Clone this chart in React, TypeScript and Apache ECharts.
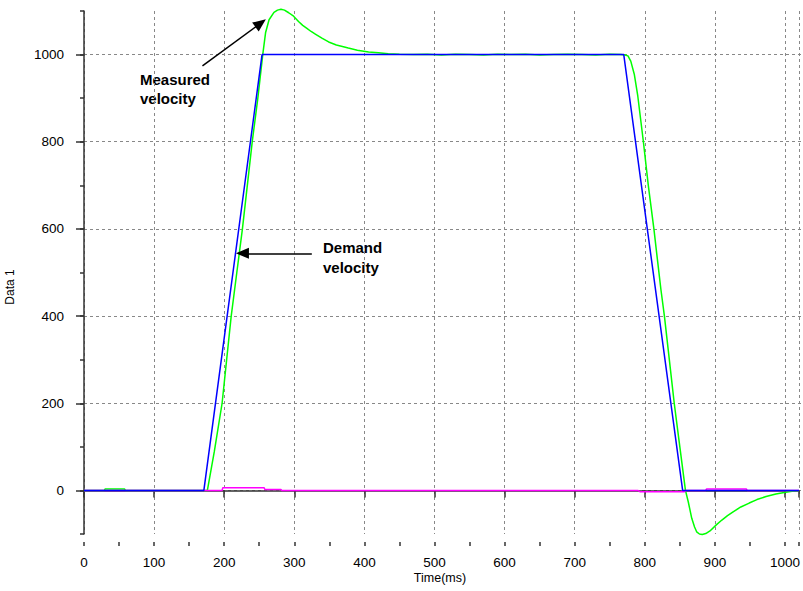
import React, { useEffect, useRef } from 'react';
import * as echarts from 'echarts';

// Demand velocity (blue)
const demandT = [0, 171, 254, 770, 854, 1020];
const demandV = [0, 0, 1000, 1000, 0, 0];

// Measured velocity (green)
const measuredT = [0, 29, 30, 58, 59, 176, 186, 197, 210, 218, 226, 233, 240, 248, 255, 259, 264, 271, 276, 281, 286, 292, 299, 306, 312, 318, 324, 330, 340, 349, 360, 370, 377, 390, 406, 420, 434, 450, 470, 490, 510, 530, 550, 570, 590, 610, 630, 650, 670, 690, 710, 730, 750, 765, 772, 776, 780, 785, 790, 798, 805, 813, 818, 823, 828, 835, 842, 850, 858, 862, 867, 871, 874, 878, 882, 887, 893, 902, 910, 918, 926, 937, 949, 960, 973, 987, 1001, 1010, 1020];
const measuredV = [0, 0, 3, 3, 0, 0, 90, 200, 400, 500, 600, 700, 800, 900, 1000, 1050, 1080, 1097, 1102, 1104, 1102, 1096, 1088, 1076, 1067, 1060, 1053, 1047, 1037, 1029, 1022, 1018, 1015, 1010, 1006, 1004, 1002, 1001, 1000, 1001, 999, 1001, 1000, 999, 1001, 1000, 1001, 999, 1000, 1001, 1000, 999, 1001, 1000, 999, 997, 985, 955, 905, 800, 700, 600, 530, 461, 400, 300, 200, 100, 0, -26, -64, -84, -95, -100, -101, -99, -93, -79, -68, -58, -49, -38, -29, -21, -14, -8, -4, -2, -1];

// Third trace (magenta)
const errorT = [0, 197, 198, 257, 258, 281, 282, 790, 793, 857, 858, 887, 888, 945, 946, 1020];
const errorV = [0, 0, 6, 6, 2, 2, 0, 0, -3, -3, 0, 0, 3, 3, 0, 0];

// Axes
const xMin = 0;
const xMax = 1020;
const xStep = 100;
const yMin = -100;
const yMax = 1100;
const yLabelMin = 0;
const yLabelMax = 1000;
const yLabelStep = 200;

// Annotation arrows [fromT, fromV, toT, toV]
const measuredArrow = [169, 974, 252, 1072];
const demandArrow = [325, 544, 226, 544];

const FONT = '"Liberation Sans", Arial, Helvetica, sans-serif';

export default function App() {
  const ref = useRef<HTMLDivElement>(null);
  useEffect(() => {
    if (!ref.current) return;
    const chart = echarts.init(ref.current, null, { renderer: 'svg' });
    const zip = (t: number[], v: number[]) => t.map((x, i) => [x, v[i]]);
    const axisColor = '#333';
    const plotTop = 11;
    const plotBottom = 57;
    const H = 591;
    const plotH = H - plotTop - plotBottom;
    const pxPer = plotH / (yMax - yMin);
    const zeroY = plotTop + (yMax - 0) * pxPer;
    const topB = plotTop + (yMax - yLabelMax) * pxPer;
    const bottomB = H - zeroY;

    chart.setOption({
      animation: false,
      backgroundColor: '#ffffff',
      textStyle: { fontFamily: FONT },
      grid: [
        { left: 84, right: 0, top: plotTop, bottom: plotBottom, containLabel: false },
        { left: 84, right: 0, top: topB, bottom: bottomB, containLabel: false },
      ],
      xAxis: [
        {
          type: 'value', gridIndex: 0, min: xMin, max: xMax, interval: xStep, offset: 8, position: 'bottom',
          axisLine: { show: true, lineStyle: { color: axisColor, width: 1.5 } },
          axisTick: { show: true, length: 7, lineStyle: { color: axisColor, width: 1.5 } },
          axisLabel: {
            margin: 13, fontSize: 13.5, color: '#000', fontFamily: FONT,
            formatter: (v: number) => (Math.round(v) % 100 === 0 ? String(Math.round(v)) : ''),
          },
          splitLine: { show: true, lineStyle: { color: '#888', type: [3, 3], width: 1 } },
        },
        {
          type: 'value', gridIndex: 0, min: xMin, max: xMax, interval: 50, offset: 8, position: 'bottom',
          axisLine: { show: false },
          axisTick: { show: true, length: 4, lineStyle: { color: axisColor, width: 1.5 } },
          axisLabel: { show: false },
          splitLine: { show: false },
        },
        {
          type: 'value', gridIndex: 1, min: xMin, max: xMax, show: false,
        },
      ],
      yAxis: [
        {
          type: 'value', gridIndex: 0, min: yMin, max: yMax, interval: 100, offset: 7, position: 'left',
          axisLine: { show: true, lineStyle: { color: axisColor, width: 1.5 } },
          axisTick: { show: true, length: 4, lineStyle: { color: axisColor, width: 1.5 } },
          axisLabel: { show: false },
          splitLine: { show: false },
        },
        {
          type: 'value', gridIndex: 1, min: yLabelMin, max: yLabelMax, interval: yLabelStep, offset: 7, position: 'left',
          axisLine: { show: false },
          axisTick: { show: true, length: 8, lineStyle: { color: axisColor, width: 1.5 } },
          axisLabel: {
            margin: 13, fontSize: 13.5, color: '#000', fontFamily: FONT,
            formatter: (v: number) => String(Math.round(v)),
          },
          splitLine: { show: true, lineStyle: { color: '#888', type: [3, 3], width: 1 } },
        },
      ],
      series: [
        {
          name: 'Measured velocity', type: 'line', xAxisIndex: 0, yAxisIndex: 0,
          data: zip(measuredT, measuredV), showSymbol: false, symbol: 'none', clip: false,
          lineStyle: { color: '#00ff00', width: 1.5 },
        },
        {
          name: 'Error', type: 'line', xAxisIndex: 0, yAxisIndex: 0,
          data: zip(errorT, errorV), showSymbol: false, symbol: 'none',
          lineStyle: { color: '#ff00ff', width: 1.5 },
        },
        {
          name: 'Demand velocity', type: 'line', xAxisIndex: 0, yAxisIndex: 0,
          data: zip(demandT, demandV), showSymbol: false, symbol: 'none',
          lineStyle: { color: '#0000ff', width: 1.5 },
          markLine: {
            silent: true,
            symbol: ['none', 'triangle'],
            symbolSize: [11, 13],
            label: { show: false },
            lineStyle: { color: '#000', width: 1.5, type: 'solid' },
            data: [
              [{ coord: [measuredArrow[0], measuredArrow[1]] }, { coord: [measuredArrow[2], measuredArrow[3]] }],
              [{ coord: [demandArrow[0], demandArrow[1]] }, { coord: [demandArrow[2], demandArrow[3]] }],
            ],
          },
        },
      ],
      graphic: [
        {
          type: 'text', x: 140, y: 70,
          style: { text: 'Measured\nvelocity', fontFamily: FONT, fontSize: 15, fontWeight: 'bold', fill: '#000', lineHeight: 19, align: 'left', verticalAlign: 'top' },
        },
        {
          type: 'text', x: 323, y: 237,
          style: { text: 'Demand\nvelocity', fontFamily: FONT, fontSize: 15, fontWeight: 'bold', fill: '#000', lineHeight: 20, align: 'left', verticalAlign: 'top' },
        },
        {
          type: 'text', x: 440, y: 578,
          style: { text: 'Time(ms)', fontFamily: FONT, fontSize: 12.5, fill: '#000', align: 'center', verticalAlign: 'middle' },
        },
        {
          type: 'text', x: 10, y: 287, rotation: Math.PI / 2,
          style: { text: 'Data 1', fontFamily: FONT, fontSize: 12, fill: '#000', align: 'center', verticalAlign: 'middle' },
        },
      ],
    });
    return () => chart.dispose();
  }, []);
  return (
    <div
      ref={ref}
      style={{ position: 'fixed', left: 0, top: 0, width: 803, height: 591, background: '#fff' }}
    />
  );
}
